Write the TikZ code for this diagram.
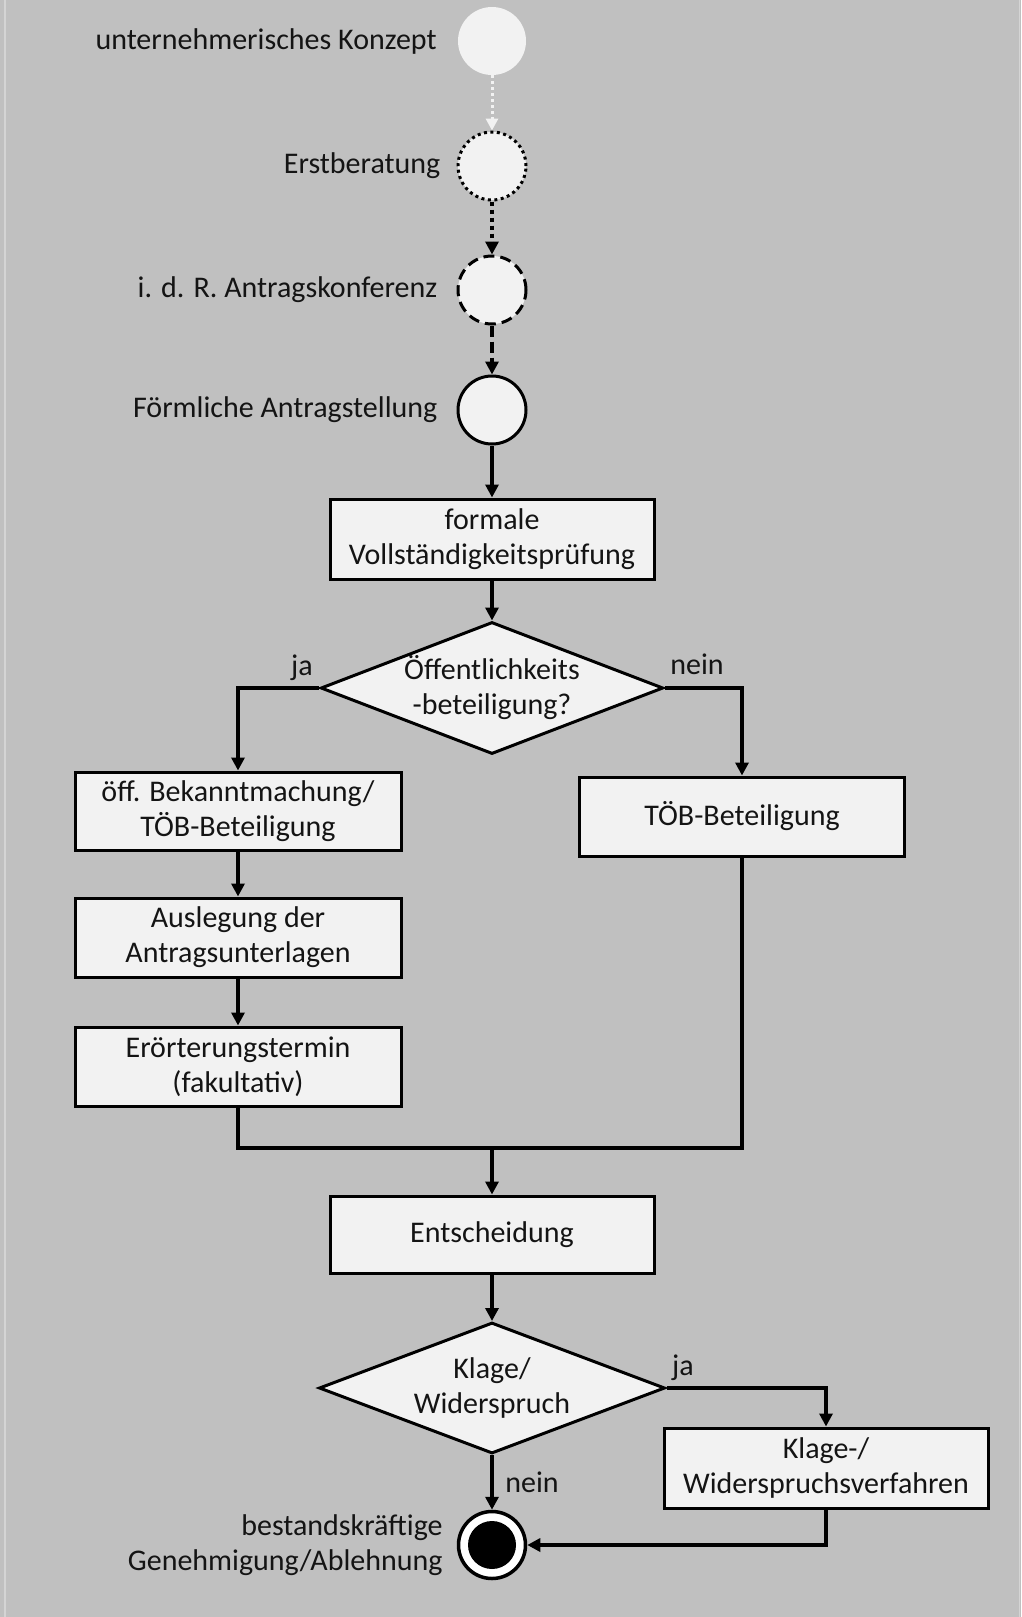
\documentclass[tikz,border=0pt]{standalone}
\usepackage{fontspec}
\setmainfont{Carlito}
\usetikzlibrary{shapes.geometric,arrows.meta}
\definecolor{bgcol}{HTML}{C0C0C0}
\definecolor{nodefill}{HTML}{F2F2F2}
\definecolor{edgecol}{HTML}{D4D4D4}
\begin{document}
\begin{tikzpicture}[x=1pt,y=-1pt,
  every node/.style={font=\fontsize{30}{35}\selectfont, text=black!92},
  stepbox/.style={rectangle, draw=black, line width=3pt, fill=nodefill, inner sep=0pt, minimum width=324pt, minimum height=79pt, align=center},
  decision/.style={diamond, draw=black, line width=3pt, fill=nodefill, inner sep=0pt, aspect=2.6, align=center},
  statecirc/.style={circle, fill=nodefill, inner sep=0pt, minimum size=68pt},
  lbl/.style={anchor=east, align=right, inner sep=0pt},
  cond/.style={inner sep=0pt},
  conn/.style={draw=black, line width=3.5pt, line join=miter},
  arr/.style={conn, -{Triangle[length=13pt,width=13pt]}},
]
\useasboundingbox (0,0) rectangle (1021,1617);
\fill[bgcol] (0,0) rectangle (1021,1617);
\draw[edgecol, line width=1.5pt] (5,0) -- (5,1617);
\draw[edgecol, line width=1pt] (1019,0) -- (1019,1617);

% start circles
\node[statecirc] (c1) at (492,41) {};
\node[statecirc, draw=black, line width=3pt, dash pattern=on 3pt off 3.5pt] (c2) at (492,166) {};
\node[statecirc, draw=black, line width=3pt, dash pattern=on 11pt off 6pt] (c3) at (492,290) {};
\node[statecirc, draw=black, line width=3pt] (c4) at (492,410) {};

\node[lbl] (l1) at ([xshift=-21pt]c1.west) {unternehmerisches Konzept};
\node[lbl] (l2) at ([xshift=-16pt]c2.west) {Erstberatung};
\node[lbl] (l3) at ([xshift=-19pt]c3.west) {i. d. R. Antragskonferenz};
\node[lbl] (l4) at ([xshift=-19pt]c4.west) {Förmliche Antragstellung};

% process
\node[stepbox, minimum height=80pt] (b1) at (492,539) {formale\\Vollständigkeitsprüfung};
\node[decision, minimum width=339pt, minimum height=132pt] (d1) at (492,688) {Öffentlichkeits\\-beteiligung?};

\node[stepbox, minimum width=326pt, minimum height=78pt] (b2) at (238,811) {öff. Bekanntmachung/\\TÖB-Beteiligung};
\node[stepbox, minimum width=326pt] (b3) at (238,937.5) {Auslegung der\\Antragsunterlagen};
\node[stepbox, minimum width=326pt] (b4) at (238,1066.5) {Erörterungstermin\\(fakultativ)};
\node[stepbox, minimum width=325pt] (bR) at (742,816.5) {TÖB-Beteiligung};

\coordinate (m) at (492,1148);
\node[stepbox, minimum height=77pt] (ent) at (492,1234.5) {Entscheidung};
\node[decision, minimum width=346pt, minimum height=131pt] (d2) at (492,1388) {Klage/\\Widerspruch};
\node[stepbox, minimum height=80pt] (kb) at (826,1468) {Klage-/\\Widerspruchsverfahren};

\node[circle, draw=black, line width=3.5pt, fill=white, inner sep=0pt, minimum size=67pt] (fin) at (492,1545) {};
\node[circle, fill=black, inner sep=0pt, minimum size=48pt] (fincore) at (fin.center) {};
\node[lbl] (l5) at ([xshift=-14pt]fin.west) {bestandskräftige\\Genehmigung/Ablehnung};

% condition labels
\node[cond] (ja1) at (302,668) {ja};
\node[cond] (nein1) at (697,664) {nein};
\node[cond] (ja2) at (683,1368) {ja};
\node[cond] (nein2) at (532,1482) {nein};

% connectors
\draw[draw=nodefill, line width=3pt, dash pattern=on 3pt off 3pt, -{Triangle[length=12pt,width=12pt,fill=nodefill]}] (c1) -- (c2);
\draw[draw=black, line width=4.5pt, dash pattern=on 4pt off 4pt, -{Triangle[length=13pt,width=13pt]}] (c2) -- (c3);
\draw[draw=black, line width=4.5pt, dash pattern=on 11pt off 5pt, -{Triangle[length=13pt,width=13pt]}] (c3) -- (c4);
\draw[arr] (c4) -- (b1);
\draw[arr] (b1) -- (d1);
\draw[arr] (d1.west) -| (b2.north);
\draw[arr] (d1.east) -| (bR.north);
\draw[arr] (b2) -- (b3);
\draw[arr] (b3) -- (b4);
\draw[conn] (b4.south) |- (m) -| (bR.south);
\draw[arr] (m) -- (ent);
\draw[arr] (ent) -- (d2);
\draw[arr] (d2.east) -| (kb.north);
\draw[arr] (d2) -- (fin);
\draw[arr] (kb.south) |- (fin.east);
\end{tikzpicture}
\end{document}
